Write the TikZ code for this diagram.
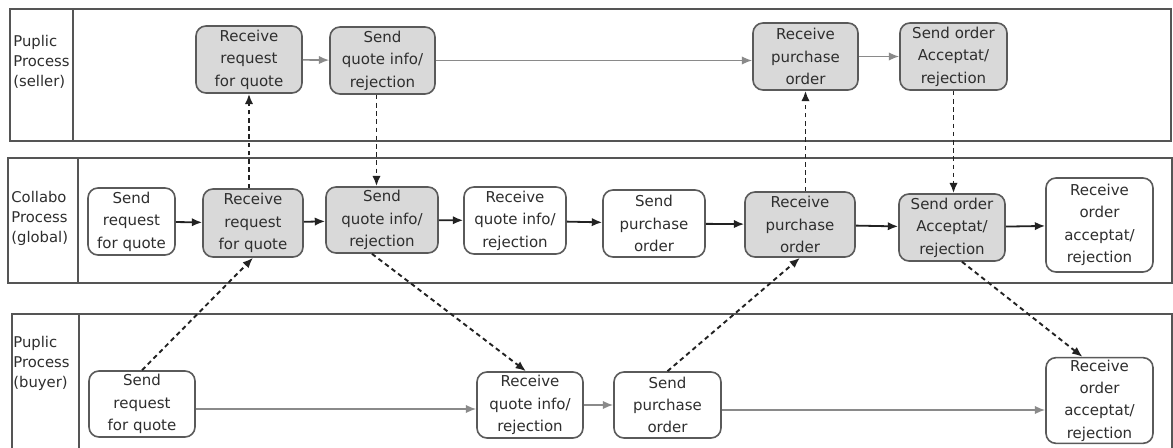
\documentclass[tikz,border=0pt]{standalone}
\usepackage{fontspec}
\setmainfont{DejaVu Sans}
\usetikzlibrary{arrows.meta}
\definecolor{laneline}{HTML}{555555}
\definecolor{boxline}{HTML}{5A5A5A}
\definecolor{boxfill}{HTML}{D9D9D9}
\definecolor{textcol}{HTML}{2E2E2E}
\definecolor{lightflow}{HTML}{8A8A8A}
\definecolor{darkflow}{HTML}{222222}
\tikzset{
  proc/.style={draw=boxline, line width=0.8pt, rounded corners=5pt, align=center,
    inner sep=1pt, text=textcol, font=\fontsize{7.5}{11.2}\selectfont,
    execute at begin node={\rule{0pt}{8.5pt}}},
  gbox/.style={proc, fill=boxfill},
  wbox/.style={proc, fill=white},
  lanebox/.style={draw=laneline, line width=1.1pt},
  lanelabel/.style={anchor=west, align=left, inner sep=0pt, text=textcol,
    font=\fontsize{7.4}{10}\selectfont},
  tip/.style={-{Latex[length=5.2pt,width=4.2pt]}},
  flowlight/.style={tip, draw=lightflow, line width=0.8pt},
  flowdark/.style={tip, draw=darkflow, line width=0.9pt},
  msg/.style={tip, draw=darkflow, line width=0.95pt, dash pattern=on 2.3pt off 1.8pt}
}
\begin{document}
\begin{tikzpicture}[x=0.5pt, y=-0.5pt]
\useasboundingbox (0,0) rectangle (1173,448);
\fill[white] (0,0) rectangle (1173,448);

% swimlanes
\draw[lanebox] (10,9) rectangle (1171,141);
\draw[lanebox] (73,9) -- (73,141);
\draw[lanebox] (8,158) rectangle (1172,283);
\draw[lanebox] (78,158) -- (78,283);
\draw[lanebox] (12,448) -- (12,314) -- (1172,314) -- (1172,448);
\draw[lanebox] (79,314) -- (79,448);

\node[lanelabel] (l1) at (13,62) {Puplic\\Process\\(seller)};
\node[lanelabel] (l2) at (11,218) {Collabo\\Process\\(global)};
\node[lanelabel] (l3) at (13,363) {Puplic\\Process\\(buyer)};

% seller lane
\node[gbox, minimum width=53pt, minimum height=33.5pt] (s1) at (249,59.5) {Receive\\request\\for quote};
\node[gbox, minimum width=52.5pt, minimum height=33.5pt] (s2) at (382.5,60.5) {Send\\quote info/\\rejection};
\node[gbox, minimum width=52.5pt, minimum height=33.5pt] (s3) at (805.5,56.5) {Receive\\purchase\\order};
\node[gbox, minimum width=53.5pt, minimum height=33.5pt] (s4) at (953.5,56.5) {Send order\\Acceptat/\\rejection};

% global lane
\node[wbox, minimum width=43.5pt, minimum height=33.5pt] (g1) at (131.5,221.5) {Send\\request\\for quote};
\node[gbox, minimum width=50pt, minimum height=34pt] (g2) at (253,223) {Receive\\request\\for quote};
\node[gbox, minimum width=56pt, minimum height=33pt] (g3) at (382,220) {Send\\quote info/\\rejection};
\node[wbox, minimum width=51pt, minimum height=33.5pt] (g4) at (515,220.5) {Receive\\quote info/\\rejection};
\node[wbox, minimum width=51pt, minimum height=33.5pt] (g5) at (654,223.5) {Send\\purchase\\order};
\node[gbox, minimum width=55pt, minimum height=32.5pt] (g6) at (800,224.5) {Receive\\purchase\\order};
\node[gbox, minimum width=53pt, minimum height=33.5pt] (g7) at (952,227.5) {Send order\\Acceptat/\\rejection};
\node[wbox, minimum width=53.5pt, minimum height=47pt] (g8) at (1099.5,225) {Receive\\order\\acceptat/\\rejection};

% buyer lane
\node[wbox, minimum width=53pt, minimum height=33pt] (b1) at (142,404) {Send\\request\\for quote};
\node[wbox, minimum width=53pt, minimum height=33pt] (b2) at (530,405) {Receive\\quote info/\\rejection};
\node[wbox, minimum width=53.5pt, minimum height=33pt] (b3) at (667.5,405) {Send\\purchase\\order};
\node[wbox, minimum width=53.5pt, minimum height=42.5pt] (b4) at (1099.5,400.5) {Receive\\order\\acceptat/\\rejection};

% sequence flows inside the lanes
\draw[flowlight] (s1) -- (s2);
\draw[flowlight] (s2.east) -- (s2.east -| s3.west);
\draw[flowlight] (s3) -- (s4);

\draw[flowdark] (g1) -- (g2);
\draw[flowdark] (g2) -- (g3);
\draw[flowdark] (g3) -- (g4);
\draw[flowdark] (g4) -- (g5);
\draw[flowdark] (g5) -- (g6);
\draw[flowdark] (g6) -- (g7);
\draw[flowdark] (g7) -- (g8);

\draw[flowlight] ([yshift=-2.5pt]b1.east) -- ([yshift=-2.5pt]b1.east -| b2.west);
\draw[flowlight] (b2) -- (b3);
\draw[flowlight] ([yshift=-2.5pt]b3.east) -- ([yshift=-2.5pt]b3.east -| b4.west);

% message flows between the lanes
\draw[msg] (s1.south |- g2.north) -- (s1.south);
\draw[msg] ([xshift=-3pt]s2.south) -- ([xshift=-3pt]s2.south |- g3.north);
\draw[msg] (b1.north) -- (g2.south);
\draw[msg] ([xshift=-5pt]g3.south) -- ([xshift=-2pt]b2.north);
\draw[msg] (b3.north) -- (g6.south);
\draw[msg] (s3.south |- g6.north) -- (s3.south);
\draw[msg] (s4.south) -- (s4.south |- g7.north);
\draw[msg] ([xshift=5pt]g7.south) -- ([xshift=-8.5pt]b4.north);
\end{tikzpicture}
\end{document}
